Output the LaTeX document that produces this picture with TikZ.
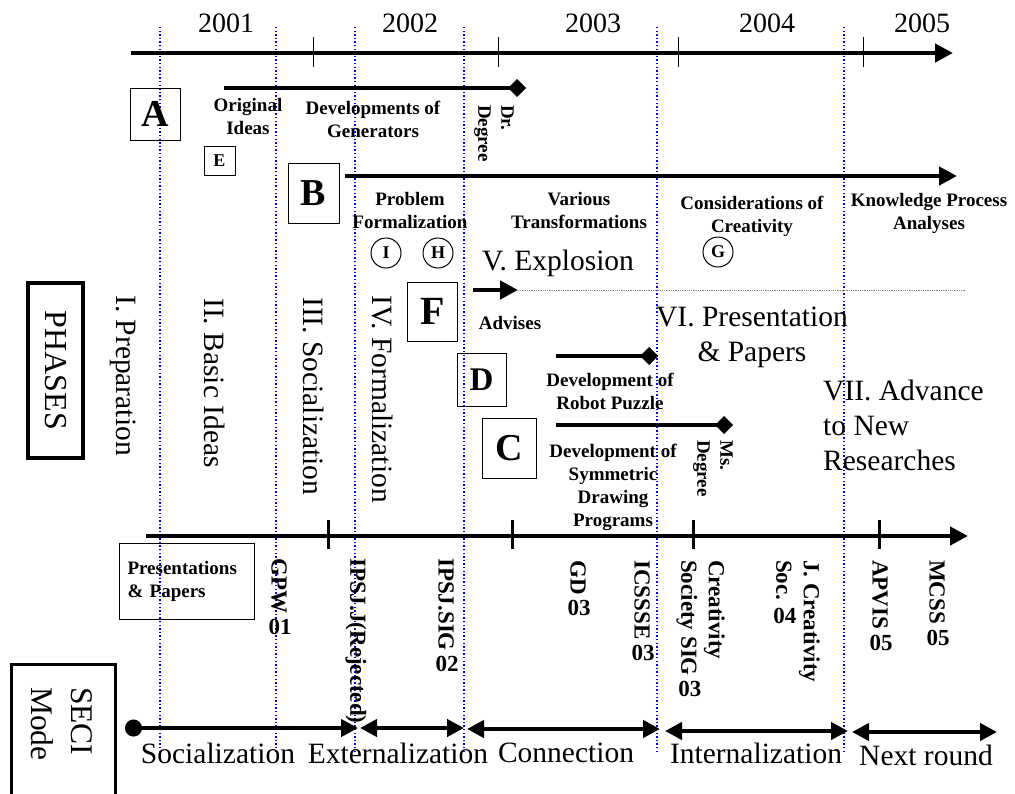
\documentclass[tikz,border=0pt]{standalone}
\usepackage{fontspec}
\usepackage{graphicx}
\setmainfont{Liberation Serif}
\usetikzlibrary{arrows.meta,positioning}

\newcommand{\fsz}[2]{\fontsize{#1}{#2}\selectfont}
\newcommand{\tcy}[1]{\raisebox{-3pt}{\rotatebox{90}{#1}}}

\begin{document}
\begin{tikzpicture}[x=1pt,y=-1pt,
    timeline/.style={line width=4.5pt},
    arr/.style={-{Triangle[length=18pt,width=18pt]}},
    both/.style={{Triangle[length=17pt,width=17pt]}-{Triangle[length=17pt,width=17pt]}},
    year/.style={font=\fsz{28}{32}},
    phasetxt/.style={font=\fsz{29.5}{35},inner sep=0pt},
    lbl/.style={font=\bfseries\fsz{19}{23},align=center,inner sep=0pt},
    vlbl/.style={font=\bfseries\fsz{23}{25},inner sep=0pt,anchor=north},
    letter/.style={draw,line width=1pt,font=\bfseries\fsz{38}{40},minimum width=50pt,minimum height=56pt,inner sep=0pt},
    circ/.style={circle,draw,line width=1pt,minimum size=30pt,inner sep=0pt,font=\bfseries\fsz{18}{18}},
    period/.style={blue,line width=1.3pt,dash pattern=on 1.3pt off 2.3pt}]

  \useasboundingbox (0,0) rectangle (1015,793);

  % period borders
  \foreach \x in {160,276,355,464,657,844}
    \draw[period] (\x,27) -- (\x,752);

  % years
  \coordinate (ys) at (131,53);
  \coordinate (ye) at (953,53);
  \draw[timeline,arr] (ys) -- (ye);
  \foreach \x in {313,498,678,863}
    \draw[line width=1pt] (\x,37) -- (\x,67);
  \foreach \y/\x in {2001/226,2002/410,2003/593,2004/767,2005/922}
    \node[year] (y\y) at (\x,23) {\y};

  % research lines
  \node[letter,minimum height=52pt] (A) at (155.5,114) {A};
  \node[draw,line width=1pt,font=\bfseries\fsz{18}{18},minimum width=31pt,minimum height=29pt,inner sep=0pt] (E) at (219.5,160.5) {E};
  \coordinate (dr0) at (224,88);
  \coordinate (dr1) at (526,88);
  \draw[timeline,-{Diamond[length=18pt,width=18pt]}] (dr0) -- (dr1);
  \node[lbl] (orig) at (248,116) {Original\\Ideas};
  \node[lbl] (gen) at (373,119) {Developments of\\Generators};
  \node[lbl,rotate=-90,align=left,anchor=north west] (dr) at (514,105) {Dr.\\Degree};

  \node[letter,minimum width=51pt,minimum height=60pt] (B) at (313.5,193) {B};
  \coordinate (b0) at (345,176);
  \coordinate (b1) at (957,176);
  \draw[timeline,arr] (b0) -- (b1);
  \node[lbl] (prob) at (410,210) {Problem\\Formalization};
  \node[lbl] (trans) at (579,210.5) {Various\\Transformations};
  \node[lbl] (crea) at (752,216) {Considerations of\\Creativity};
  \node[lbl] (know) at (929,213.5) {Knowledge Process\\Analyses};
  \node[circ] (I) at (386,253) {I};
  \node[circ] (H) at (438,253) {H};
  \node[circ] (G) at (718,252) {G};

  \node[letter,minimum height=59pt,font=\bfseries\fsz{40}{40}] (F) at (432.5,311.5) {F};
  \coordinate (f0) at (473,290);
  \coordinate (f1) at (518,290);
  \coordinate (f2) at (965,290);
  \draw[timeline,arr] (f0) -- (f1);
  \draw[gray,line width=0.8pt,dash pattern=on 0.8pt off 1pt] (f1) -- (f2);
  \node[lbl] (adv) at (510,323) {Advises};

  \node[letter,minimum width=49pt,minimum height=53pt,font=\bfseries\fsz{33}{33}] (D) at (481.5,379.5) {D};
  \coordinate (d0) at (556,356);
  \coordinate (d1) at (658,356);
  \draw[timeline,-{Diamond[length=18pt,width=18pt]}] (d0) -- (d1);
  \node[lbl] (robot) at (610,391.5) {Development of\\Robot Puzzle};

  \node[letter,minimum width=54pt,minimum height=60pt] (C) at (509,448) {C};
  \coordinate (c0) at (556,425);
  \coordinate (c1) at (733,425);
  \draw[timeline,-{Diamond[length=18pt,width=18pt]}] (c0) -- (c1);
  \node[lbl] (sym) at (613,487) {Development of\\Symmetric\\Drawing\\Programs};
  \node[lbl,rotate=-90,align=left,anchor=north west] (ms) at (733,440) {Ms.\\Degree};

  % phases
  \node[draw,line width=3.5pt,rotate=-90,font=\fsz{32}{36},minimum width=175pt,minimum height=55pt] (phases) at (55.5,370.5) {PHASES};
  \node[phasetxt,rotate=-90,anchor=west] (ph1) at (123,295) {I. Preparation};
  \node[phasetxt,rotate=-90,anchor=west] (ph2) at (214.5,298) {II. Basic Ideas};
  \node[phasetxt,rotate=-90,anchor=west] (ph3) at (314,297) {III. Socialization};
  \node[phasetxt,rotate=-90,anchor=west] (ph4) at (383,295) {IV. Formalization};
  \node[phasetxt] (ph5) at (558,263) {V. Explosion};
  \node[phasetxt,align=center] (ph6) at (752,337) {VI. Presentation\\\& Papers};
  \node[phasetxt,align=left,anchor=west] (ph7) at (823,425) {VII. Advance\\to New\\Researches};

  % presentations
  \coordinate (p0) at (146,536);
  \coordinate (p1) at (968,536);
  \draw[timeline,arr] (p0) -- (p1);
  \foreach \x in {328,512,693,879}
    \draw[line width=3pt] (\x,520) -- (\x,549);
  \node[draw,line width=1pt,lbl,align=left,text width=118pt,minimum width=135pt,minimum height=76pt] (pp) at (186.5,581) {Presentations\\\& Papers};
  \node[vlbl] (gpw) at (280,558) {\rotatebox{-90}{GPW \tcy{01}}};
  \node[vlbl] (ipsjj) at (356,558) {\rotatebox{-90}{IPSJ.J(Rejected)}};
  \node[vlbl] (ipsjsig) at (447,558) {\rotatebox{-90}{IPSJ.SIG \tcy{02}}};
  \node[vlbl] (gd) at (579,560) {\rotatebox{-90}{GD \tcy{03}}};
  \node[vlbl] (icssse) at (643,560) {\rotatebox{-90}{ICSSSE \tcy{03}}};
  \node[vlbl] (crsig) at (700,560) {\rotatebox{-90}{\begin{tabular}{@{}l@{}}Creativity\\Society SIG \tcy{03}\end{tabular}}};
  \node[vlbl] (jcs) at (795,560) {\rotatebox{-90}{\begin{tabular}{@{}l@{}}J. Creativity\\Soc. \tcy{04}\end{tabular}}};
  \node[vlbl] (apvis) at (881,560) {\rotatebox{-90}{APVIS \tcy{05}}};
  \node[vlbl] (mcss) at (938,560) {\rotatebox{-90}{MCSS \tcy{05}}};

  % SECI mode
  \draw[line width=3pt] (11,800) |- (115,664) -- (115,800);
  \node[font=\fsz{31.5}{40},rotate=-90,align=left,anchor=west,inner sep=0pt] (seci) at (62,687) {SECI\\Mode};
  \coordinate (s0) at (125,728);
  \coordinate (s1) at (358,728);
  \coordinate (s2) at (360,728);
  \coordinate (s3) at (464,728);
  \coordinate (s4) at (467,729);
  \coordinate (s5) at (660,729);
  \coordinate (s6) at (665,731);
  \coordinate (s7) at (848,731);
  \coordinate (s8) at (852,732);
  \coordinate (s9) at (997,732);
  \draw[timeline,{Circle[length=17pt]}-{Triangle[length=17pt,width=17pt]}] (s0) -- (s1);
  \draw[timeline,both] (s2) -- (s3);
  \draw[timeline,both] (s4) -- (s5);
  \draw[timeline,both] (s6) -- (s7);
  \draw[timeline,both] (s8) -- (s9);
  \node[phasetxt] (soc) at (218,753) {Socialization};
  \node[phasetxt] (ext) at (398,753) {Externalization};
  \node[phasetxt] (con) at (566,753) {Connection};
  \node[phasetxt] (int) at (756,753) {Internalization};
  \node[phasetxt] (nxt) at (926,755) {Next round};
\end{tikzpicture}
\end{document}
